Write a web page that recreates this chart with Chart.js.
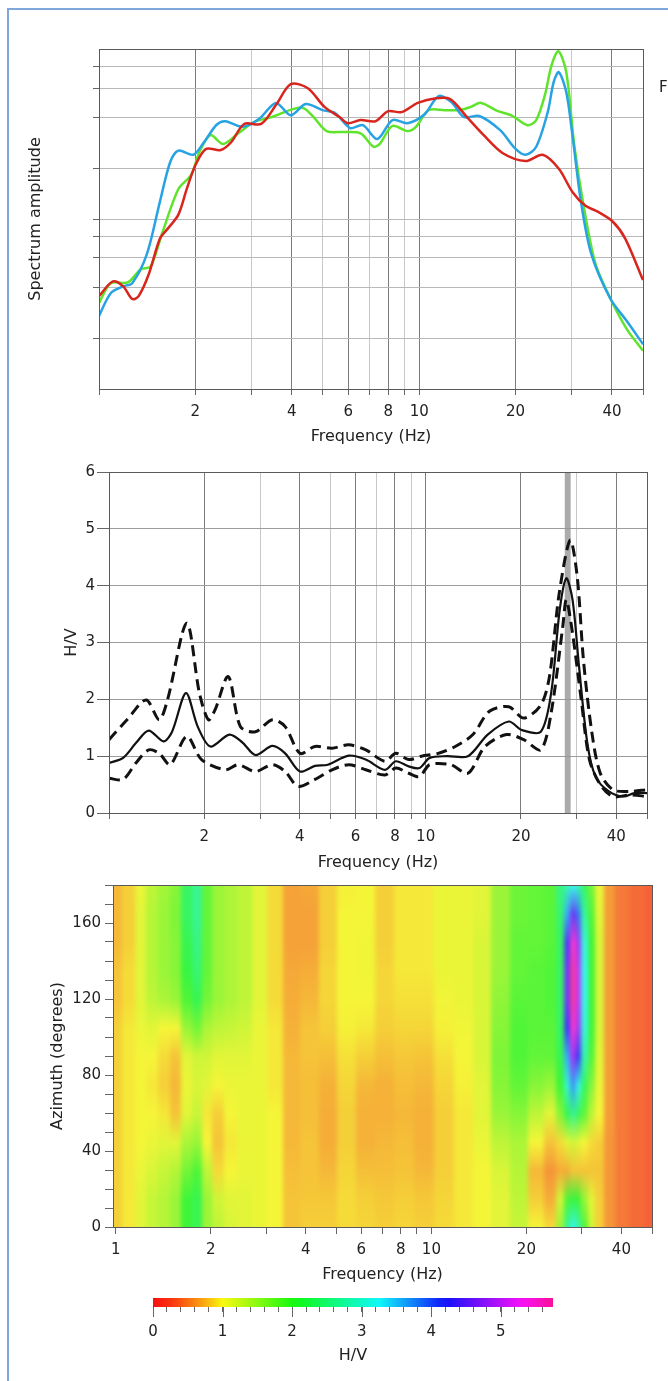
<!DOCTYPE html>
<html>
<head>
<meta charset="utf-8">
<script src="https://cdn.jsdelivr.net/npm/chart.js@4"></script>
<style>
  html, body { margin: 0; padding: 0; background: #fff; }
  body { width: 668px; height: 1381px; position: relative; overflow: hidden; }
  canvas { position: absolute; left: 0; }
  #frame { position: absolute; left: 7px; top: 8px; width: 700px; height: 1400px; border: 2px solid #7ea8dc; box-sizing: border-box; }
  #legendCut { position: absolute; left: 659px; top: 78px; font: 15px 'DejaVu Sans', sans-serif; color: #222; }
</style>
</head>
<body>
<div id="frame"></div>
<canvas id="spec" width="668" height="460" style="top:0px"></canvas>
<canvas id="hv" width="668" height="420" style="top:460px"></canvas>
<canvas id="azi" width="668" height="420" style="top:870px"></canvas>
<canvas id="cbar" width="668" height="101" style="top:1280px"></canvas>
<div id="legendCut">F</div>
<script>
// ---- tick labels ----
const freqTicks = [1, 2, 3, 4, 5, 6, 7, 8, 9, 10, 20, 30, 40, 50];
const freqLabels = [2, 4, 6, 8, 10, 20, 40];
const heatFreqLabels = [1, 2, 4, 6, 8, 10, 20, 40];
const specTicks = [1, 2, 3, 4, 5, 10, 20, 30, 40];
const azTicks = [0, 10, 20, 30, 40, 50, 60, 70, 80, 90, 100, 110, 120, 130, 140, 150, 160, 170, 180];
const azLabels = [0, 40, 80, 120, 160];
const cbarLabels = [0, 1, 2, 3, 4, 5];
const cbarMax = 5.75;

// ---- spectra (top) ----
const redFreq = [1, 1.105, 1.19, 1.27, 1.33, 1.43, 1.55, 1.64, 1.77, 1.88, 2.0, 2.16, 2.4, 2.59, 2.84, 3.21, 3.57, 3.97, 4.49, 5.06, 5.64, 5.98, 6.56, 7.3, 8.0, 8.8, 9.9, 11.3, 12.5, 14.1, 15.9, 18.2, 21.5, 24.3, 27.3, 30.1, 33.0, 36.1, 40.2, 44, 50];
const redAmp = [1.77, 2.16, 2.02, 1.70, 1.77, 2.38, 3.87, 4.43, 5.36, 7.6, 10.5, 13.1, 12.9, 14.4, 18.4, 18.4, 23.8, 31.6, 29.9, 23.2, 20.2, 18.6, 19.4, 19.1, 21.9, 21.6, 24.5, 26.1, 25.8, 20.2, 15.8, 12.4, 11.1, 12.1, 10.0, 7.3, 6.06, 5.58, 4.88, 3.87, 2.2];
const blueFreq = [1, 1.088, 1.19, 1.27, 1.41, 1.55, 1.67, 1.77, 1.97, 2.13, 2.33, 2.48, 2.80, 3.16, 3.57, 3.97, 4.42, 4.99, 5.47, 6.08, 6.67, 7.4, 8.25, 9.2, 10.4, 11.5, 12.6, 13.8, 15.4, 17.9, 20.0, 21.5, 23.2, 25.2, 26.3, 27.3, 28.8, 30.1, 32.0, 34.5, 39.6, 44.5, 50];
const blueAmp = [1.35, 1.84, 2.02, 2.11, 3.12, 6.4, 11.0, 12.8, 12.1, 14.4, 18.2, 19.1, 17.7, 19.7, 24.5, 20.7, 24.1, 22.2, 21.3, 17.4, 18.1, 15.0, 19.4, 18.6, 21.0, 26.9, 24.8, 20.2, 20.5, 16.9, 13.1, 12.1, 13.5, 21.6, 32.5, 37.2, 28.3, 15.8, 6.4, 3.12, 1.70, 1.26, 0.92];
const greenFreq = [1, 1.088, 1.23, 1.35, 1.45, 1.57, 1.77, 1.94, 2.06, 2.23, 2.44, 2.71, 3.06, 3.46, 4.03, 4.35, 4.68, 5.14, 5.8, 6.56, 7.2, 7.52, 8.25, 9.2, 9.77, 10.7, 12.0, 13.4, 14.5, 15.6, 17.6, 19.4, 21.8, 23.2, 24.7, 25.9, 27.2, 28.8, 30.5, 32.6, 35.5, 39.6, 44.5, 50];
const greenAmp = [1.61, 2.11, 2.13, 2.55, 2.65, 4.09, 7.6, 9.2, 12.6, 15.8, 14.0, 16.1, 18.9, 20.2, 22.5, 22.8, 20.2, 16.7, 16.5, 16.2, 13.5, 14.0, 17.9, 16.7, 17.7, 22.2, 22.2, 22.2, 23.2, 24.5, 21.9, 20.7, 18.1, 19.4, 27.3, 40.8, 49.5, 37.2, 13.8, 6.1, 2.76, 1.70, 1.13, 0.84];

// ---- H/V curve (middle) ----
const hvMeanFreq = [1, 1.108, 1.216, 1.334, 1.487, 1.582, 1.75, 1.906, 2.09, 2.40, 2.64, 2.90, 3.28, 3.60, 4.01, 4.47, 4.91, 5.72, 6.47, 7.44, 8.05, 8.84, 9.55, 10.3, 11.7, 13.6, 15.7, 18.3, 20.1, 23.1, 24.9, 26.5, 27.8, 29.1, 30.5, 32.4, 34.4, 37.9, 42.2, 45.6, 50];
const hvMean = [0.88, 0.97, 1.23, 1.45, 1.26, 1.43, 2.11, 1.52, 1.17, 1.38, 1.24, 1.02, 1.18, 1.05, 0.73, 0.83, 0.85, 1.01, 0.94, 0.76, 0.91, 0.82, 0.79, 0.97, 1.0, 1.0, 1.38, 1.61, 1.46, 1.43, 2.11, 3.57, 4.13, 3.75, 2.58, 1.23, 0.64, 0.38, 0.29, 0.35, 0.35];
const hvUpperFreq = [1, 1.14, 1.31, 1.44, 1.53, 1.76, 1.93, 2.06, 2.16, 2.38, 2.60, 2.90, 3.28, 3.60, 4.01, 4.47, 5.06, 5.72, 6.47, 7.44, 8.05, 8.84, 9.7, 10.96, 12.4, 14.1, 15.9, 18.3, 20.4, 23.1, 24.6, 26.4, 28.6, 30.1, 31.5, 33.5, 35.6, 39.0, 44.3, 50];
const hvUpper = [1.29, 1.64, 1.99, 1.64, 1.99, 3.34, 2.11, 1.64, 1.81, 2.40, 1.52, 1.43, 1.64, 1.52, 1.05, 1.17, 1.14, 1.20, 1.11, 0.91, 1.05, 0.94, 1.0, 1.05, 1.17, 1.38, 1.79, 1.87, 1.67, 1.90, 2.40, 3.86, 4.80, 4.16, 2.69, 1.41, 0.70, 0.41, 0.38, 0.41];
const hvLowerFreq = [1, 1.108, 1.216, 1.334, 1.44, 1.56, 1.76, 1.96, 2.33, 2.56, 2.90, 3.28, 3.60, 3.95, 4.47, 5.06, 5.72, 6.47, 7.44, 8.05, 8.84, 9.55, 10.3, 12.0, 13.6, 15.4, 18.0, 20.4, 23.1, 24.9, 27.1, 27.8, 29.1, 31.0, 32.9, 35.6, 39.0, 44.3, 50];
const hvLower = [0.61, 0.59, 0.88, 1.11, 1.05, 0.85, 1.35, 0.94, 0.76, 0.85, 0.73, 0.85, 0.73, 0.47, 0.59, 0.76, 0.85, 0.76, 0.67, 0.79, 0.70, 0.64, 0.85, 0.85, 0.70, 1.17, 1.38, 1.29, 1.11, 1.76, 3.28, 3.75, 3.16, 1.99, 0.94, 0.50, 0.29, 0.32, 0.29];
const peakBand = [27.5, 28.7];

// ---- directional H/V (bottom): one row per azimuth, one value per frequency ----
const hmFreq = [1.0, 1.1, 1.2, 1.3, 1.42, 1.55, 1.68, 1.8, 1.95, 2.1, 2.3, 2.55, 2.85, 3.2, 3.6, 4.1, 4.7, 5.4, 6.2, 7.1, 8.2, 9.5, 11, 12.7, 14.5, 16.5, 19, 21.5, 24, 25.8, 27, 28.1, 29.2, 30.5, 32, 34, 36.5, 40, 45, 50];
const hmAz = [0, 15, 30, 45, 60, 75, 90, 105, 120, 135, 150, 165, 180];
const hmGrid = [
  [.85,.95,1.1,1.25,1.35,1.5,2.0,2.2,1.5,1.3,1.15,1.1,1.05,1.0,.8,.85,.85,.9,.88,.85,.88,.85,.9,.95,1.0,1.1,1.25,1.0,.9,1.5,2.6,3.2,2.8,1.9,1.2,.85,.6,.45,.38,.33],
  [.85,.95,1.1,1.25,1.35,1.5,2.0,2.2,1.5,1.2,1.1,1.1,1.05,1.0,.8,.82,.82,.9,.85,.82,.85,.82,.88,.95,1.0,1.1,1.3,.85,.7,1.2,1.9,2.1,2.0,1.5,1.1,.85,.6,.45,.38,.33],
  [.85,.95,1.05,1.15,1.25,1.35,1.7,1.9,1.3,.9,1.0,1.05,1.05,1.0,.78,.8,.75,.88,.78,.78,.8,.75,.85,.95,1.0,1.15,1.35,.75,.6,.7,.7,.8,.8,.8,.8,.8,.6,.45,.38,.33],
  [.85,.95,1.0,1.05,1.1,1.1,1.4,1.5,1.0,.8,.95,1.05,1.05,1.0,.75,.8,.7,.85,.72,.75,.78,.72,.85,.95,1.05,1.3,1.4,1.0,.8,.9,1.1,1.2,1.1,1.0,.9,.85,.6,.45,.38,.33],
  [.85,.95,1.0,1.0,.95,.8,1.1,1.25,.95,.85,1.0,1.05,1.05,1.0,.75,.78,.7,.85,.72,.72,.75,.72,.85,.95,1.1,1.5,1.6,1.3,1.1,1.6,2.2,2.6,2.3,1.8,1.3,1.0,.62,.45,.38,.33],
  [.85,.95,1.0,.95,.85,.75,1.05,1.15,1.1,1.0,1.05,1.05,1.05,.95,.75,.78,.72,.88,.75,.72,.78,.75,.88,.98,1.1,1.6,1.8,1.6,1.5,2.0,3.0,3.7,3.2,2.3,1.6,1.05,.62,.45,.38,.33],
  [.85,.95,1.0,1.0,.9,.8,1.1,1.2,1.2,1.1,1.1,1.1,1.05,.95,.75,.8,.78,.92,.85,.78,.82,.8,.92,1.0,1.15,1.65,1.9,1.8,1.8,2.2,3.6,4.8,4.2,2.8,1.9,1.1,.62,.45,.38,.33],
  [.85,.95,1.05,1.1,1.0,1.0,1.5,1.7,1.4,1.3,1.25,1.2,1.05,.95,.72,.8,.85,.98,.95,.85,.88,.88,.98,1.02,1.15,1.6,1.9,1.85,1.85,2.3,4.2,5.5,4.8,3.1,2.0,1.15,.62,.45,.38,.33],
  [.8,.9,1.1,1.3,1.4,1.5,1.9,2.2,1.7,1.5,1.4,1.3,1.1,.9,.7,.75,.88,1.0,1.0,.88,.92,.92,1.02,1.05,1.15,1.55,1.85,1.85,1.9,2.3,4.5,5.8,5.0,3.2,2.0,1.15,.62,.45,.38,.33],
  [.8,.9,1.1,1.35,1.5,1.6,2.1,2.4,1.8,1.5,1.4,1.3,1.1,.9,.68,.7,.88,1.0,1.02,.88,.95,.95,1.05,1.05,1.15,1.5,1.8,1.85,1.9,2.3,4.5,5.8,5.0,3.2,2.0,1.15,.62,.45,.38,.33],
  [.75,.85,1.1,1.35,1.5,1.6,2.2,2.5,1.8,1.5,1.4,1.3,1.1,.9,.65,.65,.85,1.0,1.02,.85,.95,.95,1.05,1.05,1.15,1.5,1.8,1.8,1.85,2.3,4.3,5.5,4.8,3.1,2.0,1.15,.62,.45,.38,.33],
  [.75,.85,1.1,1.35,1.5,1.65,2.3,2.6,1.8,1.5,1.4,1.3,1.1,.9,.65,.65,.85,1.0,1.0,.85,.95,.95,1.05,1.05,1.1,1.5,1.75,1.8,1.85,2.4,3.6,4.5,3.9,2.7,1.9,1.1,.62,.45,.38,.33],
  [.75,.85,1.05,1.3,1.45,1.6,2.3,2.6,1.8,1.5,1.4,1.3,1.1,.9,.65,.68,.85,.98,1.0,.85,.95,.95,1.05,1.05,1.1,1.5,1.75,1.8,1.85,2.5,2.8,3.2,2.9,2.3,1.7,1.05,.62,.45,.38,.33]
];

// colour scale: H/V value -> hue
const hueStops = [[0, 0], [0.3, 11], [0.6, 30], [0.85, 48], [1, 60], [2, 118], [3.25, 180], [4.2, 240], [5.3, 300], [5.75, 325]];
function hvColor(v, sat, lig) {
  v = Math.max(0, Math.min(cbarMax, v));
  let k = 1;
  while (k < hueStops.length - 1 && v > hueStops[k][0]) k++;
  const [v0, h0] = hueStops[k - 1], [v1, h1] = hueStops[k];
  const h = h0 + (h1 - h0) * (v - v0) / (v1 - v0);
  return 'hsl(' + h.toFixed(1) + ', ' + (sat || 92) + '%, ' + (lig || 57) + '%)';
}

Chart.defaults.font.family = "'DejaVu Sans', Verdana, sans-serif";
Chart.defaults.font.size = 15;
Chart.defaults.color = '#222';
Chart.defaults.animation = false;
Chart.defaults.plugins.legend.display = false;
Chart.defaults.plugins.tooltip.enabled = false;
Chart.defaults.elements.point.radius = 0;

const titleFont = { size: 16 };

function series(fx, fy, color, width, dash) {
  return {
    data: fy.map((v, i) => ({ x: fx[i], y: v })),
    borderColor: color, borderWidth: width, borderDash: dash || [],
    tension: 0.3, pointRadius: 0, fill: false
  };
}

function freqAxis(min, labels, o) {
  return {
    type: 'logarithmic', min: min, max: 50,
    afterBuildTicks: s => { s.ticks = freqTicks.map(v => ({ value: v })); },
    afterFit: s => { s.height = o.height; },
    ticks: { autoSkip: false, maxRotation: 0, padding: o.pad, callback: v => labels.includes(v) ? String(v) : '' },
    grid: {
      drawOnChartArea: o.grid, tickLength: o.tick, tickColor: '#666',
      color: c => (c.tick && labels.includes(c.tick.value)) ? '#7c7c7c' : '#c8c8c8'
    },
    border: { color: '#555' },
    title: { display: true, text: 'Frequency (Hz)', font: titleFont, padding: { top: 0, bottom: o.titlePad } }
  };
}

const framePlugin = {
  id: 'frame',
  afterDatasetsDraw(chart) {
    const a = chart.chartArea, ctx = chart.ctx;
    ctx.save();
    ctx.strokeStyle = '#5a5a5a';
    ctx.lineWidth = 1;
    ctx.strokeRect(Math.round(a.left) + 0.5, Math.round(a.top) + 0.5, Math.round(a.right - a.left), Math.round(a.bottom - a.top));
    ctx.restore();
  }
};

const bandPlugin = {
  id: 'band',
  beforeDatasetsDraw(chart, args, opts) {
    const a = chart.chartArea, xs = chart.scales.x, ctx = chart.ctx;
    const x0 = xs.getPixelForValue(opts.range[0]), x1 = xs.getPixelForValue(opts.range[1]);
    ctx.save();
    ctx.fillStyle = 'rgba(150,150,150,0.8)';
    ctx.fillRect(x0, a.top, x1 - x0, a.bottom - a.top);
    ctx.restore();
  }
};

const heatPlugin = {
  id: 'heat',
  beforeDatasetsDraw(chart) {
    const a = chart.chartArea, xs = chart.scales.x, ys = chart.scales.y, ctx = chart.ctx;
    const pts = chart.data.datasets[0].data;
    const nx = hmFreq.length, ny = hmAz.length, ext = 14;
    const w = Math.ceil(a.right - a.left) + 2 * ext;
    const off = document.createElement('canvas');
    off.width = w; off.height = ny;
    const o = off.getContext('2d');
    pts.forEach((p, k) => {
      const i = Math.floor(k / nx), j = k % nx;
      const lo = j === 0 ? a.left - ext : xs.getPixelForValue(Math.sqrt(hmFreq[j - 1] * p.x));
      const hi = j === nx - 1 ? a.right + ext : xs.getPixelForValue(Math.sqrt(p.x * hmFreq[j + 1]));
      const x0 = Math.round(lo - a.left + ext), x1 = Math.round(hi - a.left + ext);
      o.fillStyle = hvColor(p.v, 90, 59);
      o.fillRect(x0, ny - 1 - i, x1 - x0, 1);
    });
    const half = (hmAz[1] - hmAz[0]) / 2;
    const top = ys.getPixelForValue(hmAz[ny - 1] + half), bot = ys.getPixelForValue(hmAz[0] - half);
    ctx.save();
    ctx.beginPath();
    ctx.rect(a.left, a.top, a.right - a.left, a.bottom - a.top);
    ctx.clip();
    ctx.imageSmoothingEnabled = true;
    ctx.imageSmoothingQuality = 'low';
    ctx.filter = 'blur(2px)';
    ctx.drawImage(off, 0, 0, w, ny, a.left - ext, top, w, bot - top);
    ctx.restore();
  }
};

const cbarPlugin = {
  id: 'cbar',
  afterDraw(chart) {
    const a = chart.chartArea, xs = chart.scales.x, ctx = chart.ctx;
    const x0 = xs.getPixelForValue(0), x1 = xs.getPixelForValue(cbarMax);
    const g = ctx.createLinearGradient(x0, 0, x1, 0);
    for (let s = 0; s <= 46; s++) g.addColorStop(s / 46, hvColor(cbarMax * s / 46, 95, 52));
    ctx.save();
    ctx.fillStyle = g;
    ctx.fillRect(x0, a.top, x1 - x0, a.bottom - a.top);
    ctx.strokeStyle = '#666';
    ctx.lineWidth = 1;
    cbarLabels.forEach(v => {
      const x = Math.round(xs.getPixelForValue(v)) + 0.5;
      ctx.beginPath(); ctx.moveTo(x, a.bottom); ctx.lineTo(x, a.bottom + 10); ctx.stroke();
    });
    ctx.restore();
  }
};

// ---- top: spectra ----
new Chart(document.getElementById('spec'), {
  type: 'line',
  data: { datasets: [
    series(redFreq, redAmp, '#d8261f', 2.5),
    series(blueFreq, blueAmp, '#27a3e3', 2.5),
    series(greenFreq, greenAmp, '#5fe42c', 2.5)
  ] },
  options: {
    responsive: false, devicePixelRatio: 1,
    layout: { padding: { left: 19, top: 49, right: 25, bottom: 0 } },
    scales: {
      x: freqAxis(1, freqLabels, { height: 71, pad: 8, tick: 6, grid: true, titlePad: 14 }),
      y: {
        type: 'logarithmic', min: 0.5, max: 51,
        afterBuildTicks: s => { s.ticks = specTicks.map(v => ({ value: v })); },
        afterFit: s => { s.width = 80; },
        ticks: { autoSkip: false, callback: () => '' },
        grid: { color: '#b8b8b8', tickLength: 6, tickColor: '#666' },
        border: { color: '#555' },
        title: { display: true, text: 'Spectrum amplitude', font: titleFont, padding: { top: 7, bottom: 0 } }
      }
    }
  },
  plugins: [framePlugin]
});

// ---- middle: H/V ----
new Chart(document.getElementById('hv'), {
  type: 'line',
  data: { datasets: [
    series(hvUpperFreq, hvUpper, '#111', 3, [11, 6]),
    series(hvLowerFreq, hvLower, '#111', 3, [11, 6]),
    series(hvMeanFreq, hvMean, '#111', 2.2)
  ] },
  options: {
    responsive: false, devicePixelRatio: 1,
    layout: { padding: { left: 54, top: 12, right: 21, bottom: 0 } },
    scales: {
      x: freqAxis(1, freqLabels, { height: 67, pad: 9, tick: 6, grid: true, titlePad: 8 }),
      y: {
        min: 0, max: 6,
        afterFit: s => { s.width = 55; },
        ticks: { stepSize: 1, padding: 2 },
        grid: { color: '#9c9c9c', tickLength: 12, tickColor: '#666' },
        border: { color: '#555' },
        title: { display: true, text: 'H/V', font: titleFont, padding: { top: 8, bottom: 0 } }
      }
    },
    plugins: { band: { range: peakBand } }
  },
  plugins: [bandPlugin, framePlugin]
});

// ---- bottom: azimuth map ----
const heatPoints = [];
hmAz.forEach((az, i) => hmFreq.forEach((f, j) => heatPoints.push({ x: f, y: az, v: hmGrid[i][j] })));

new Chart(document.getElementById('azi'), {
  type: 'scatter',
  data: { datasets: [{ data: heatPoints, pointRadius: 0 }] },
  options: {
    responsive: false, devicePixelRatio: 1,
    layout: { padding: { left: 35, top: 15, right: 16, bottom: 0 } },
    scales: {
      x: freqAxis(0.98, heatFreqLabels, { height: 63, pad: 7, tick: 7, grid: false, titlePad: 6 }),
      y: {
        min: 0, max: 180,
        afterBuildTicks: s => { s.ticks = azTicks.map(v => ({ value: v })); },
        afterFit: s => { s.width = 78; },
        ticks: { autoSkip: false, padding: 4, callback: v => azLabels.includes(v) ? String(v) : '' },
        grid: { drawOnChartArea: false, tickLength: 8, tickColor: '#666' },
        border: { color: '#555' },
        title: { display: true, text: 'Azimuth (degrees)', font: titleFont, padding: { top: 13, bottom: 0 } }
      }
    }
  },
  plugins: [heatPlugin, framePlugin]
});

// ---- colour bar ----
const cbarMinor = [];
for (let i = 0; i * 0.2 <= cbarMax; i++) cbarMinor.push(Math.round(i * 2) / 10);

new Chart(document.getElementById('cbar'), {
  type: 'scatter',
  data: { datasets: [] },
  options: {
    responsive: false, devicePixelRatio: 1,
    layout: { padding: { left: 153, top: 18, right: 115, bottom: 0 } },
    scales: {
      x: {
        type: 'linear', min: 0, max: cbarMax,
        afterBuildTicks: s => { s.ticks = cbarMinor.map(v => ({ value: v })); },
        afterFit: s => { s.height = 74; },
        ticks: { autoSkip: false, maxRotation: 0, padding: 11, callback: v => cbarLabels.includes(v) ? String(v) : '' },
        grid: { drawOnChartArea: false, tickLength: 5, tickColor: '#666' },
        border: { display: false },
        title: { display: true, text: 'H/V', font: titleFont, padding: { top: 0, bottom: 16 } }
      },
      y: { display: false }
    }
  },
  plugins: [cbarPlugin]
});
</script>
</body>
</html>
